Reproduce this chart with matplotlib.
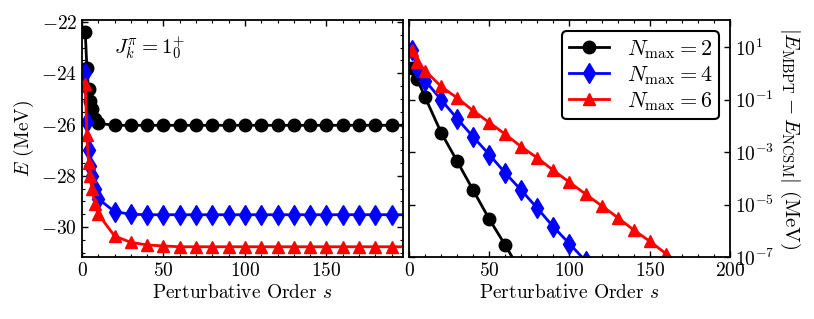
import matplotlib
matplotlib.use("Agg")
import matplotlib.pyplot as plt
from matplotlib.ticker import MultipleLocator, NullLocator

plt.rcParams["font.family"] = "serif"
plt.rcParams["font.serif"] = ["cmr10"]
plt.rcParams["mathtext.fontset"] = "cm"
plt.rcParams["axes.formatter.use_mathtext"] = True
plt.rcParams["font.size"] = 14

# left panel: energy vs perturbative order
s_left = [2, 3, 4, 5, 6, 8, 10, 20, 30, 40, 50, 60, 70, 80, 90, 100,
          110, 120, 130, 140, 150, 160, 170, 180, 190, 200]
E_n2 = [-22.4, -23.8, -24.6, -25.1, -25.4, -25.8, -25.95, -26.03, -26.03, -26.03,
        -26.03, -26.03, -26.03, -26.03, -26.03, -26.03, -26.03, -26.03, -26.03,
        -26.03, -26.03, -26.03, -26.03, -26.03, -26.03, -26.03]
E_n4 = [-24.0, -25.9, -27.0, -27.6, -28.0, -28.5, -28.9, -29.4, -29.5, -29.52,
        -29.52, -29.52, -29.52, -29.52, -29.52, -29.52, -29.52, -29.52, -29.52,
        -29.52, -29.52, -29.52, -29.52, -29.52, -29.52, -29.52]
E_n6 = [-24.4, -26.4, -27.5, -28.0, -28.5, -29.1, -29.5, -30.35, -30.6, -30.7,
        -30.74, -30.77, -30.77, -30.77, -30.77, -30.77, -30.77, -30.77, -30.77,
        -30.77, -30.77, -30.77, -30.77, -30.77, -30.77, -30.77]

# right panel: |E_MBPT - E_NCSM|
s_d2 = [2, 5, 10, 20, 30, 40, 50, 60, 70]
d_n2 = [1.6, 0.63, 0.126, 5.6e-3, 4.5e-4, 3.5e-5, 2.8e-6, 2.8e-7, 2.5e-8]
s_d4 = [2, 5, 10, 20, 30, 40, 50, 60, 70, 80, 90, 100, 110, 120]
d_n4 = [7.6, 1.6, 0.54, 0.10, 1.9e-2, 3.8e-3, 8.1e-4, 1.6e-4, 3.5e-5, 7.2e-6,
        1.4e-6, 3.2e-7, 7.1e-8, 1.6e-8]
s_d6 = [2, 5, 10, 20, 30, 40, 50, 60, 70, 80, 90, 100, 110, 120, 130, 140,
        150, 160, 170]
d_n6 = [7.6, 2.7, 1.3, 0.32, 0.117, 3.8e-2, 1.35e-2, 4.8e-3, 1.6e-3, 6.0e-4,
        2.0e-4, 7.1e-5, 2.5e-5, 9.1e-6, 3.2e-6, 1.07e-6, 4.0e-7, 1.35e-7, 5.0e-8]

labels = [r"$N_{\rm max} = 2$", r"$N_{\rm max} = 4$", r"$N_{\rm max} = 6$"]
colors = ["black", "blue", "red"]
markers = ["o", "d", "^"]
msizes = [9, 10, 9]

fig = plt.figure(figsize=(8.14, 3.19), dpi=100)
ax1 = fig.add_axes([82 / 814, 62 / 319, 321 / 814, 237 / 319])
ax2 = fig.add_axes([409 / 814, 62 / 319, 321 / 814, 237 / 319])

for E, c, m, ms, lab in zip([E_n2, E_n4, E_n6], colors, markers, msizes, labels):
    ax1.plot(s_left, E, color=c, marker=m, ms=ms, lw=2, label=lab)

for s, d, c, m, ms, lab in zip([s_d2, s_d4, s_d6], [d_n2, d_n4, d_n6],
                               colors, markers, msizes, labels):
    ax2.plot(s, d, color=c, marker=m, ms=ms, lw=2, label=lab)

ax1.set_xlim(0, 197)
ax1.set_ylim(-31.17, -21.92)
ax1.set_xticks([0, 50, 100, 150])
ax1.set_yticks([-30, -28, -26, -24, -22])
ax1.xaxis.set_minor_locator(MultipleLocator(10))
ax1.yaxis.set_minor_locator(MultipleLocator(0.5))
ax1.set_xlabel(r"Perturbative Order $s$", labelpad=3)
ax1.set_ylabel(r"$E$ (MeV)", labelpad=4)
ax1.text(0.10, 0.885, r"$J^{\pi}_{k} = 1^{+}_{0}$", transform=ax1.transAxes,
         fontsize=15, va="center", ha="left")

ax2.set_yscale("log")
ax2.set_xlim(0, 200)
ax2.set_ylim(1e-7, 1.1e2)
ax2.set_xticks([0, 50, 100, 150, 200])
ax2.set_yticks([1e-7, 1e-5, 1e-3, 1e-1, 1e1])
ax2.yaxis.set_minor_locator(NullLocator())
ax2.xaxis.set_minor_locator(MultipleLocator(10))
ax2.yaxis.tick_right()
ax2.yaxis.set_label_position("right")
ax2.set_xlabel(r"Perturbative Order $s$", labelpad=3)
ax2.set_ylabel(r"$|E_{\mathrm{MBPT}} - E_{\mathrm{NCSM}}|$ (MeV)",
               rotation=-90, labelpad=20, fontsize=15)

for ax in (ax1, ax2):
    ax.tick_params(which="both", direction="in", top=True, right=True, left=True,
                   labelsize=14)
    ax.tick_params(which="major", length=4, width=1)
    ax.tick_params(which="minor", length=2.5, width=0.8)
    for sp in ax.spines.values():
        sp.set_linewidth(1.3)
ax2.tick_params(labelleft=False, labelright=True)

leg = ax2.legend(loc="upper right", fontsize=16, handlelength=1.8,
                 borderaxespad=0.5, borderpad=0.3, labelspacing=0.15,
                 handletextpad=0.8, fancybox=True, framealpha=1)
leg.get_frame().set_edgecolor("black")
leg.get_frame().set_linewidth(1.5)

fig.savefig("out.png", dpi=100)
